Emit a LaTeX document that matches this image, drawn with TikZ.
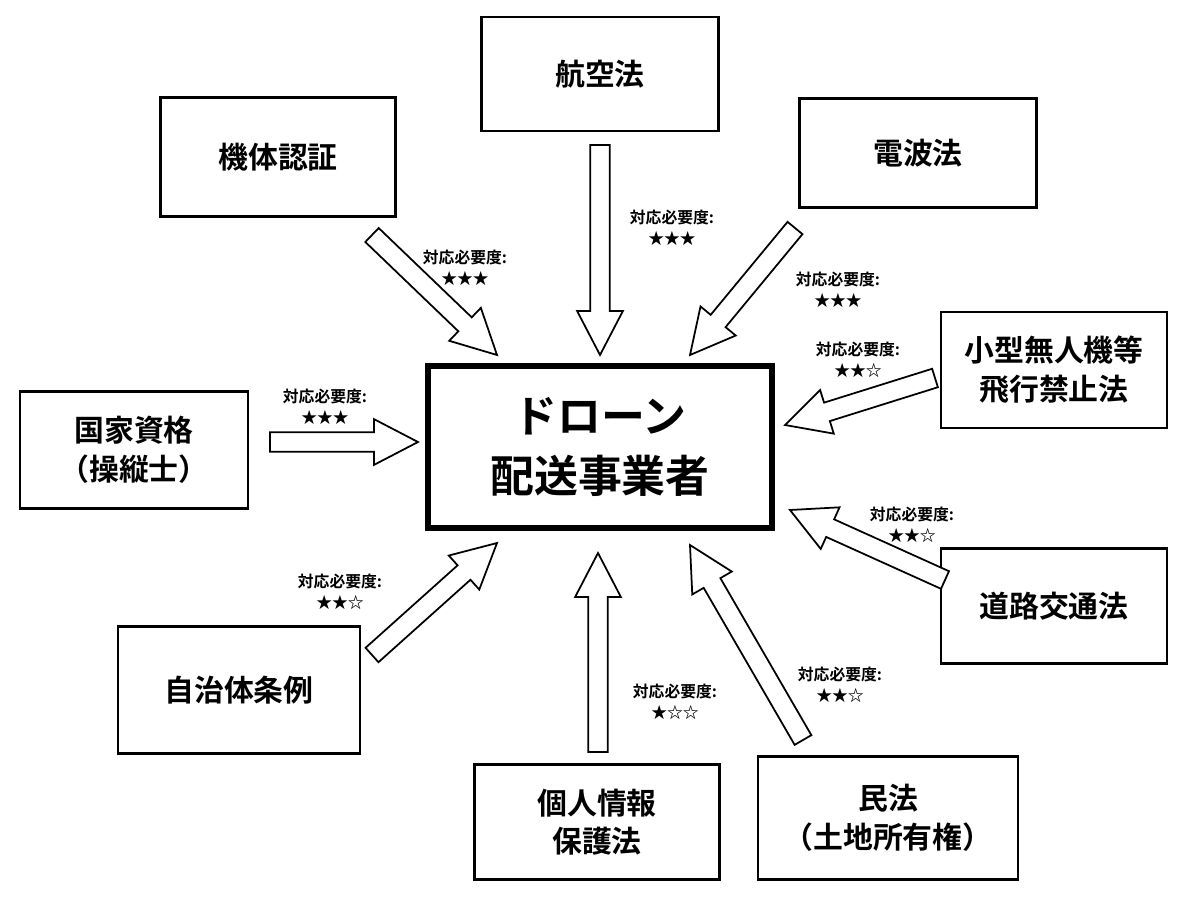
\documentclass[tikz,border=0pt]{standalone}
\usepackage{fontspec}
\setmainfont{Noto Sans CJK JP}[BoldFont={* Bold}]
\usetikzlibrary{calc}

\tikzset{
  law/.style={draw, line width=1.2pt, align=center, font=\bfseries\fontsize{17}{22}\selectfont, inner sep=0pt},
  hub/.style={draw, line width=3pt, align=center, font=\bfseries\fontsize{25}{34}\selectfont, inner sep=0pt},
  need/.style={align=center, font=\bfseries\fontsize{9}{12}\selectfont},
  bigarrow/.style={draw, line width=1pt, fill=white,
    to path={let \p1=(\tikztostart), \p2=(\tikztotarget),
      \n1={atan2(\y2-\y1,\x2-\x1)}, \n2={veclen(\x2-\x1,\y2-\y1)} in
      ({\x1+5.5pt*sin(\n1)},{\y1-5.5pt*cos(\n1)})
      -- ({\x1+(\n2-25pt)*cos(\n1)+5.5pt*sin(\n1)},{\y1+(\n2-25pt)*sin(\n1)-5.5pt*cos(\n1)})
      -- ({\x1+(\n2-25pt)*cos(\n1)+13pt*sin(\n1)},{\y1+(\n2-25pt)*sin(\n1)-13pt*cos(\n1)})
      -- (\tikztotarget)
      -- ({\x1+(\n2-25pt)*cos(\n1)-13pt*sin(\n1)},{\y1+(\n2-25pt)*sin(\n1)+13pt*cos(\n1)})
      -- ({\x1+(\n2-25pt)*cos(\n1)-5.5pt*sin(\n1)},{\y1+(\n2-25pt)*sin(\n1)+5.5pt*cos(\n1)})
      -- ({\x1-5.5pt*sin(\n1)},{\y1+5.5pt*cos(\n1)}) -- cycle}}
}

\begin{document}
\begin{tikzpicture}[x=0.02cm, y=-0.02cm]
\useasboundingbox (0,0) rectangle (1200,896);

% the boxes
\node (hub) [hub, minimum width=6.88cm, minimum height=3.24cm] at (600,447) {ドローン\\配送事業者};
\node (koku)   [law, minimum width=4.74cm, minimum height=2.28cm] at (600,74)  {航空法};
\node (kitai)  [law, minimum width=4.7cm,  minimum height=2.38cm] at (278,157) {機体認証};
\node (denpa)  [law, minimum width=4.74cm, minimum height=2.18cm] at (918,153) {電波法};
\node (kogata) [law, minimum width=4.52cm, minimum height=2.32cm] at (1054,370) {小型無人機等\\飛行禁止法};
\node (kokka)  [law, minimum width=4.56cm, minimum height=2.34cm] at (134,450) {国家資格\\（操縦士）};
\node (doro)   [law, minimum width=4.52cm, minimum height=2.3cm]  at (1054,606) {道路交通法};
\node (jichi)  [law, minimum width=4.84cm, minimum height=2.54cm] at (239,690) {自治体条例};
\node (kojin)  [law, minimum width=4.9cm,  minimum height=2.3cm]  at (597,822) {個人情報\\保護法};
\node (minpo)  [law, minimum width=5.2cm,  minimum height=2.46cm] at (888,818) {民法\\（土地所有権）};

% arrow ends
\coordinate (kitai-a) at (372,235);  \coordinate (kitai-b) at (497,355);
\coordinate (koku-a)  at (600,145);  \coordinate (koku-b)  at (600,355);
\coordinate (denpa-a) at (795,228);  \coordinate (denpa-b) at (690,355);
\coordinate (kogata-a) at (935,378); \coordinate (kogata-b) at (785,425);
\coordinate (kokka-a) at (270,442);  \coordinate (kokka-b) at (418,442);
\coordinate (doro-a)  at (945,580);  \coordinate (doro-b)  at (790,510);
\coordinate (jichi-a) at (372,655);  \coordinate (jichi-b) at (497,543);
\coordinate (kojin-a) at (598,752);  \coordinate (kojin-b) at (598,553);
\coordinate (minpo-a) at (803,740);  \coordinate (minpo-b) at (690,545);

\foreach \s in {kitai,koku,denpa,kogata,kokka,doro,jichi,kojin,minpo}
  \draw[bigarrow] (\s-a) to (\s-b);

% ratings
\node (kitai-n)  [need] at (465,268) {対応必要度:\\★★★};
\node (koku-n)   [need] at (672,228) {対応必要度:\\★★★};
\node (denpa-n)  [need] at (838,290) {対応必要度:\\★★★};
\node (kogata-n) [need] at (858,360) {対応必要度:\\★★☆};
\node (kokka-n)  [need] at (325,407) {対応必要度:\\★★★};
\node (doro-n)   [need] at (912,525) {対応必要度:\\★★☆};
\node (jichi-n)  [need] at (340,592) {対応必要度:\\★★☆};
\node (kojin-n)  [need] at (675,702) {対応必要度:\\★☆☆};
\node (minpo-n)  [need] at (840,685) {対応必要度:\\★★☆};
\end{tikzpicture}
\end{document}
